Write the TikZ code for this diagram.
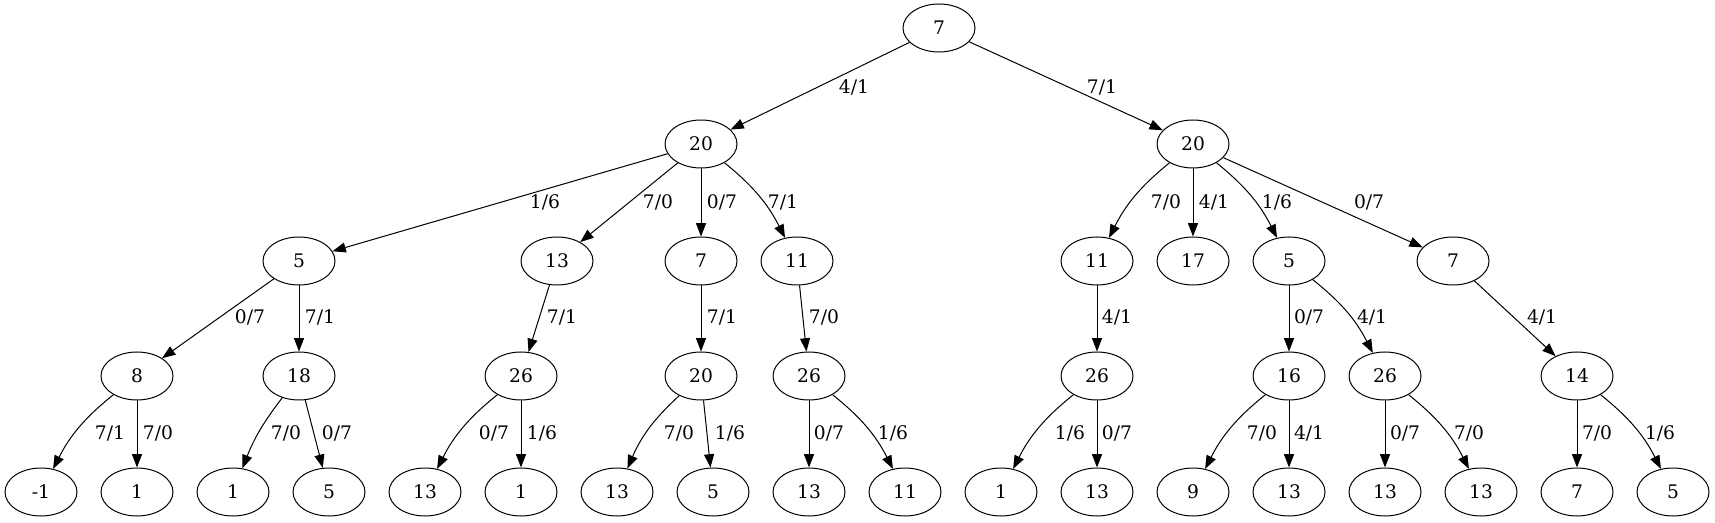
\documentclass[tikz,border=0pt]{standalone}
\usepackage{fontspec}
\setmainfont{DejaVu Serif}
\usetikzlibrary{arrows.meta,shapes.geometric}
\begin{document}
\begin{tikzpicture}[x=0.75pt,y=-0.75pt,
  vtx/.style={draw,ellipse,minimum width=54pt,minimum height=36pt,inner sep=0pt,line width=0.75pt,font=\fontsize{14}{16}\selectfont},
  edge/.style={-{Triangle[length=10pt,width=7.5pt]},line width=0.75pt},
  lbl/.style={inner sep=0pt,font=\fontsize{14}{16}\selectfont}]
\useasboundingbox (0,0) rectangle (1715,523);
% nodes
\node[vtx] (r) at (939,28) {7};
\node[vtx] (a) at (701,144) {20};
\node[vtx] (b) at (1193,144) {20};
\node[vtx] (a1) at (299,261) {5};
\node[vtx] (a2) at (557,261) {13};
\node[vtx] (a3) at (701,261) {7};
\node[vtx] (a4) at (797,261) {11};
\node[vtx] (b1) at (1097,261) {11};
\node[vtx] (b2) at (1193,261) {17};
\node[vtx] (b3) at (1289,261) {5};
\node[vtx] (b4) at (1453,261) {7};
\node[vtx] (a11) at (137,376) {8};
\node[vtx] (a12) at (299,376) {18};
\node[vtx] (a21) at (521,376) {26};
\node[vtx] (a31) at (701,376) {20};
\node[vtx] (a41) at (809,376) {26};
\node[vtx] (b11) at (1097,376) {26};
\node[vtx] (b31) at (1289,376) {16};
\node[vtx] (b32) at (1385,376) {26};
\node[vtx] (b41) at (1577,376) {14};
\node[vtx] (a111) at (41,492) {-1};
\node[vtx] (a112) at (137,492) {1};
\node[vtx] (a121) at (233,492) {1};
\node[vtx] (a122) at (329,492) {5};
\node[vtx] (a211) at (425,492) {13};
\node[vtx] (a212) at (521,492) {1};
\node[vtx] (a311) at (617,492) {13};
\node[vtx] (a312) at (713,492) {5};
\node[vtx] (a411) at (809,492) {13};
\node[vtx] (a412) at (905,492) {11};
\node[vtx] (b111) at (1001,492) {1};
\node[vtx] (b112) at (1097,492) {13};
\node[vtx] (b311) at (1193,492) {9};
\node[vtx] (b312) at (1289,492) {13};
\node[vtx] (b321) at (1385,492) {13};
\node[vtx] (b322) at (1481,492) {13};
\node[vtx] (b411) at (1577,492) {7};
\node[vtx] (b412) at (1673,492) {5};
% edges
\draw[edge] (r) -- (a) node[lbl] at (854,87) {4/1};
\draw[edge] (r) -- (b) node[lbl] at (1102,87) {7/1};
\draw[edge] (a) -- (a1) node[lbl] at (545,202) {1/6};
\draw[edge] (a) -- (a2) node[lbl] at (658,202) {7/0};
\draw[edge] (a) -- (a3) node[lbl] at (722,202) {0/7};
\draw[edge] (a) to[bend left=12] (a4) node[lbl] at (783,202) {7/1};
\draw[edge] (b) to[bend right=12] (b1) node[lbl] at (1166,202) {7/0};
\draw[edge] (b) -- (b2) node[lbl] at (1214,202) {4/1};
\draw[edge] (b) to[bend left=12] (b3) node[lbl] at (1277,202) {1/6};
\draw[edge] (b) -- (b4) node[lbl] at (1369,202) {0/7};
\draw[edge] (a1) -- (a11) node[lbl] at (250,317) {0/7};
\draw[edge] (a1) -- (a12) node[lbl] at (320,317) {7/1};
\draw[edge] (a2) -- (a21) node[lbl] at (562,317) {7/1};
\draw[edge] (a3) -- (a31) node[lbl] at (722,317) {7/1};
\draw[edge] (a4) -- (a41) node[lbl] at (824,317) {7/0};
\draw[edge] (b1) -- (b11) node[lbl] at (1117,317) {4/1};
\draw[edge] (b3) -- (b31) node[lbl] at (1309,317) {0/7};
\draw[edge] (b3) to[bend left=12] (b32) node[lbl] at (1372,317) {4/1};
\draw[edge] (b4) -- (b41) node[lbl] at (1542,317) {4/1};
\draw[edge] (a11) to[bend right=12] (a111) node[lbl] at (110,433) {7/1};
\draw[edge] (a11) -- (a112) node[lbl] at (158,433) {7/0};
\draw[edge] (a12) to[bend right=8] (a121) node[lbl] at (286,433) {7/0};
\draw[edge] (a12) -- (a122) node[lbl] at (337,433) {0/7};
\draw[edge] (a21) to[bend right=12] (a211) node[lbl] at (494,433) {0/7};
\draw[edge] (a21) -- (a212) node[lbl] at (542,433) {1/6};
\draw[edge] (a31) to[bend right=12] (a311) node[lbl] at (679,433) {7/0};
\draw[edge] (a31) -- (a312) node[lbl] at (730,433) {1/6};
\draw[edge] (a41) -- (a411) node[lbl] at (829,433) {0/7};
\draw[edge] (a41) to[bend left=12] (a412) node[lbl] at (893,433) {1/6};
\draw[edge] (b11) to[bend right=12] (b111) node[lbl] at (1070,433) {1/6};
\draw[edge] (b11) -- (b112) node[lbl] at (1117,433) {0/7};
\draw[edge] (b31) to[bend right=12] (b311) node[lbl] at (1262,433) {7/0};
\draw[edge] (b31) -- (b312) node[lbl] at (1309,433) {4/1};
\draw[edge] (b32) -- (b321) node[lbl] at (1405,433) {0/7};
\draw[edge] (b32) to[bend left=12] (b322) node[lbl] at (1469,433) {7/0};
\draw[edge] (b41) -- (b411) node[lbl] at (1597,433) {7/0};
\draw[edge] (b41) to[bend left=12] (b412) node[lbl] at (1660,433) {1/6};
\end{tikzpicture}
\end{document}
